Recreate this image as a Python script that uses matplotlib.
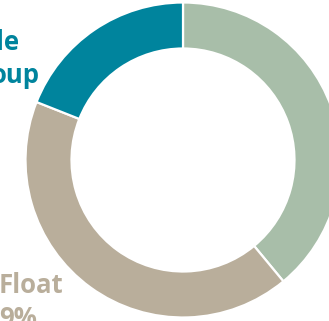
import matplotlib
matplotlib.use("Agg")
import matplotlib.pyplot as plt

# Data (clockwise from 12 o'clock)
segments = ["Other", "Free Float", "Group"]
shares = [39, 42, 19]
colors = ["#A8BEA9", "#B9AE9B", "#00849D"]

# Visible (cropped) label fragments
group_label_lines = ["le", "oup"]
float_label_lines = ["Float", "9%"]

W, H = 329, 321
fig = plt.figure(figsize=(W / 100, H / 100), dpi=100)
ax = fig.add_axes([0, 0, 1, 1])

cx, cy = 183, H - 160
R = 157.5
ring = 46

ax.pie(shares, colors=colors, startangle=90, counterclock=False,
       center=(cx, cy), radius=R,
       wedgeprops=dict(width=ring, edgecolor="white", linewidth=1.6))

ax.set_xlim(0, W)
ax.set_ylim(0, H)
ax.set_aspect("auto")
ax.axis("off")

font = dict(family=["Open Sans", "DejaVu Sans"], fontweight="bold", fontsize=18.5)

group_x = [-4, -9]
for i, t in enumerate(group_label_lines):
    ax.text(group_x[i], H - 50 - 33 * i, t, color=colors[2], ha="left", va="baseline", **font)
for i, t in enumerate(float_label_lines):
    ax.text(-1, H - 293 - 33 * i, t, color=colors[1], ha="left", va="baseline", **font)

fig.savefig("out.png", dpi=100)
